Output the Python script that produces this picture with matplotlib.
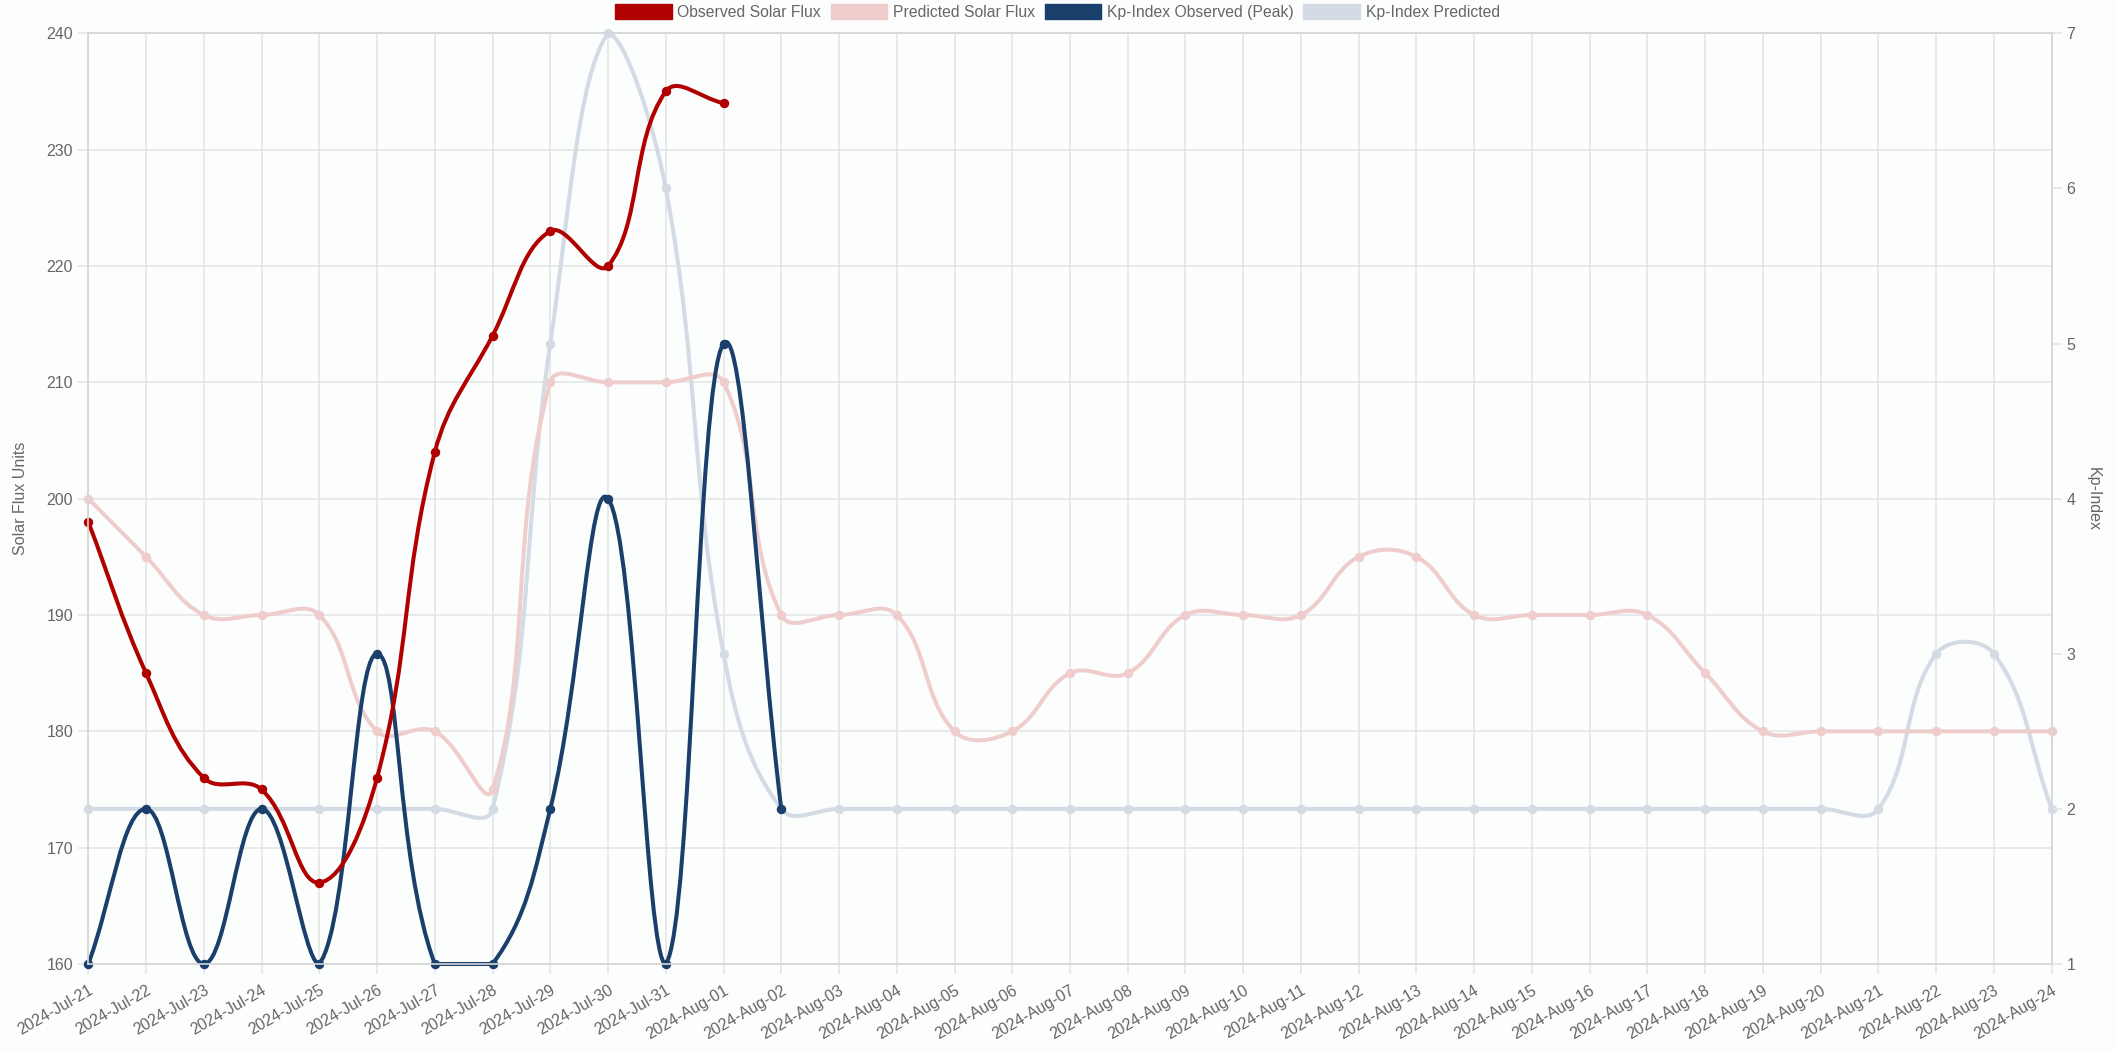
import numpy as np
import matplotlib
matplotlib.use('Agg')
import matplotlib.pyplot as plt
from matplotlib.path import Path
from matplotlib.patches import PathPatch, Patch

plt.rcParams['font.family'] = ['Liberation Sans', 'DejaVu Sans']

dates = ['2024-Jul-%d' % d for d in range(21, 32)] + ['2024-Aug-%02d' % d for d in range(1, 25)]

flux_observed = [198, 185, 176, 175, 167, 176, 204, 214, 223, 220, 235, 234]
flux_predicted = [200, 195, 190, 190, 190, 180, 180, 175, 210, 210, 210, 210,
                  190, 190, 190, 180, 180, 185, 185, 190, 190, 190, 195, 195,
                  190, 190, 190, 190, 185, 180, 180, 180, 180, 180, 180]
kp_observed = [1, 2, 1, 2, 1, 3, 1, 1, 2, 4, 1, 5, 2]
kp_predicted = [2, 2, 2, 2, 2, 2, 2, 2, 5, 7, 6, 3, 2, 2, 2, 2, 2, 2, 2, 2,
                2, 2, 2, 2, 2, 2, 2, 2, 2, 2, 2, 2, 3, 3, 2]

c_obs_flux = '#b00000'
c_pred_flux = '#f0cdcd'
c_obs_kp = '#1b3f6b'
c_pred_kp = '#d3dbe4'
txt = '#666666'
grid_c = '#e5e5e5'

W, H = 2115, 1053
fig = plt.figure(figsize=(W / 100, H / 100), dpi=100, facecolor='#fcfdfd')
left, right, top, bottom = 88.3, 2051.7, 33.3, 964.0
ax = fig.add_axes([left / W, 1 - bottom / H, (right - left) / W, (bottom - top) / H])
ax.set_facecolor('none')
ax2 = ax.twinx()

n = len(dates)
ax.set_xlim(0, n - 1)
ax.set_ylim(160, 240)
ax2.set_ylim(1, 7)

PW, PH = right - left, bottom - top


def spline(ys, ylim, t=0.4):
    # chart.js style bezier, computed in pixel space, control points capped to area
    xs = np.arange(len(ys))
    X = xs / (n - 1) * PW
    Y = (np.array(ys, float) - ylim[0]) / (ylim[1] - ylim[0]) * PH
    m = len(ys)
    cin, cout = [], []
    for i in range(m):
        pi = i - 1 if i > 0 else i
        ni = i + 1 if i < m - 1 else i
        d01 = np.hypot(X[i] - X[pi], Y[i] - Y[pi])
        d12 = np.hypot(X[ni] - X[i], Y[ni] - Y[i])
        s = d01 + d12
        fa = t * (d01 / s if s else 0)
        fb = t * (d12 / s if s else 0)
        dx, dy = X[ni] - X[pi], Y[ni] - Y[pi]
        a = (np.clip(X[i] - fa * dx, 0, PW), np.clip(Y[i] - fa * dy, 0, PH))
        b = (np.clip(X[i] + fb * dx, 0, PW), np.clip(Y[i] + fb * dy, 0, PH))
        cin.append(a)
        cout.append(b)

    def back(p):
        return (p[0] / PW * (n - 1), ylim[0] + p[1] / PH * (ylim[1] - ylim[0]))

    verts = [(xs[0], ys[0])]
    codes = [Path.MOVETO]
    for i in range(m - 1):
        verts += [back(cout[i]), back(cin[i + 1]), (xs[i + 1], ys[i + 1])]
        codes += [Path.CURVE4] * 3
    return Path(verts, codes)


lw = 2.9
ms = 5.8
series = [
    (kp_predicted, c_pred_kp, ax2, (1, 7)),
    (flux_predicted, c_pred_flux, ax, (160, 240)),
    (kp_observed, c_obs_kp, ax2, (1, 7)),
    (flux_observed, c_obs_flux, ax, (160, 240)),
]
for k, (vals, col, a, lim) in enumerate(series):
    tr = a.transData
    patch = PathPatch(spline(vals, lim), facecolor='none', edgecolor=col, lw=lw,
                      transform=tr, zorder=3 + k, clip_on=False)
    ax.add_patch(patch)
    ax.plot(np.arange(len(vals)), vals, 'o', color=col, ms=ms, transform=tr,
            zorder=3 + k, clip_on=False)

ax.set_xlim(0, n - 1)
ax.set_ylim(160, 240)

ax.set_xticks(np.arange(n))
ax.set_xticklabels(dates, rotation=30, ha='right', rotation_mode='anchor')
ax.set_yticks(np.arange(160, 241, 10))
ax2.set_yticks(np.arange(1, 8))
ax.grid(True, color=grid_c, lw=1.2)
ax.set_axisbelow(True)

for a in (ax, ax2):
    for sp in a.spines.values():
        sp.set_color('#d8d8d8')
        sp.set_linewidth(1.2)
ax.tick_params(axis='both', colors=grid_c, labelcolor=txt, labelsize=11.5, length=7.5, width=1.2)
ax.tick_params(axis='y', pad=3.5)
ax.tick_params(axis='x', pad=6)
ax2.tick_params(axis='y', colors=grid_c, labelcolor=txt, labelsize=11.5, length=7.5, width=1.2, pad=3)

ax.set_ylabel('Solar Flux Units', color=txt, fontsize=11.5)
ax.yaxis.set_label_coords((28 - left) / PW, 0.5)
ax2.set_ylabel('Kp-Index', color=txt, fontsize=11.5, rotation=270, va='center')
ax2.yaxis.set_label_coords((2093 - left) / PW, 0.5)

labels = ['Observed Solar Flux', 'Predicted Solar Flux', 'Kp-Index Observed (Peak)', 'Kp-Index Predicted']
handles = [Patch(facecolor=c, edgecolor=c) for c in (c_obs_flux, c_pred_flux, c_obs_kp, c_pred_kp)]
leg = fig.legend(handles, labels, loc='upper center', bbox_to_anchor=(0.5, 1.0), ncol=4,
                 frameon=False, fontsize=11.3, handlelength=3.6, handleheight=1.1,
                 handletextpad=0.37, columnspacing=0.62, borderaxespad=0.15, borderpad=0.1)
for t in leg.get_texts():
    t.set_color(txt)

fig.savefig('out.png', dpi=100, facecolor=fig.get_facecolor())
